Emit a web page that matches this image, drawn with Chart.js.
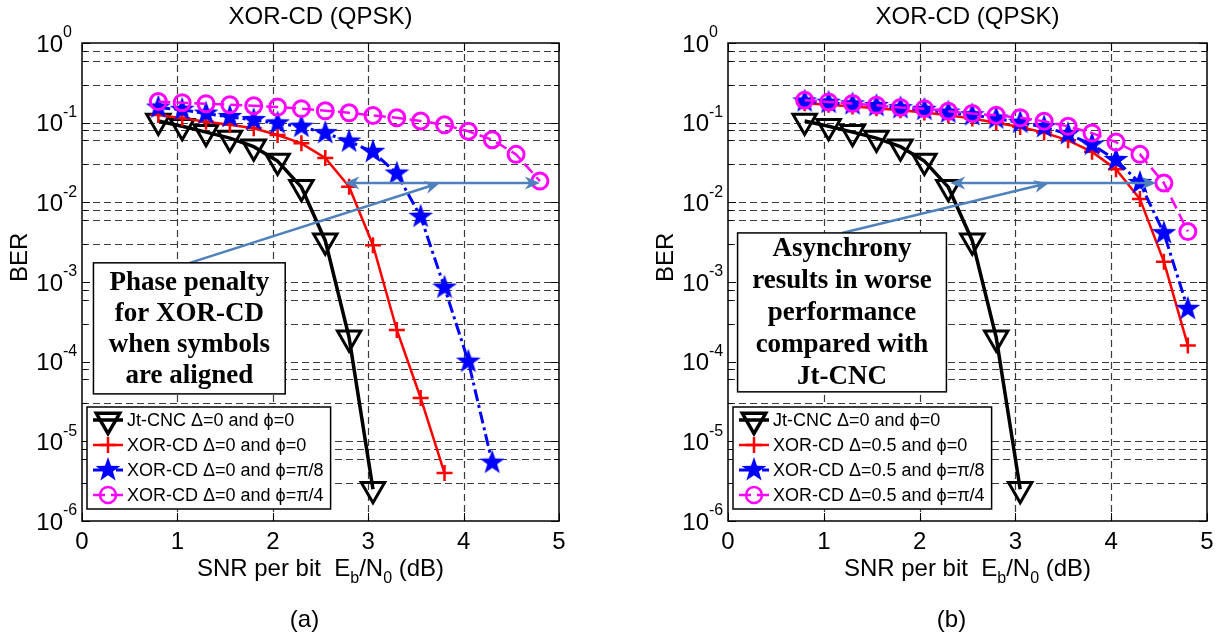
<!DOCTYPE html>
<html>
<head>
<meta charset="utf-8">
<script src="https://cdn.jsdelivr.net/npm/chart.js@4.4.1/dist/chart.umd.min.js"></script>
<style>
  body { margin: 0; background: #fff; }
  #wrap { position: relative; width: 1224px; height: 639px; }
  canvas { position: absolute; top: 0; }
</style>
</head>
<body>
<div id="wrap">
  <canvas id="chartA" width="612" height="639" style="left:0"></canvas>
  <canvas id="chartB" width="612" height="639" style="left:612px"></canvas>
</div>
<script>
// Eb/N0 points (dB)
const snr = [0.8, 1.05, 1.3, 1.55, 1.8, 2.05, 2.3, 2.55, 2.8, 3.05, 3.3, 3.55, 3.8, 4.05, 4.3, 4.55, 4.8];

// BER curves, panel (a)
const jtCnc = [0.105, 0.090, 0.076, 0.064, 0.050, 0.033, 0.0155, 0.0033, 0.0002, 0.0000025];
const xorA0 = [0.125, 0.114, 0.103, 0.094, 0.085, 0.070, 0.055, 0.036, 0.0157, 0.0029, 0.00025, 0.000035, 0.000004];
const xorA8 = [0.155, 0.145, 0.130, 0.118, 0.108, 0.098, 0.089, 0.074, 0.058, 0.043, 0.023, 0.0066, 0.00085, 0.0001, 0.0000054];
const xorA4 = [0.184, 0.178, 0.173, 0.168, 0.163, 0.157, 0.150, 0.141, 0.133, 0.123, 0.115, 0.105, 0.094, 0.078, 0.061, 0.040, 0.0185];

// BER curves, panel (b)
const xorB0 = [0.175, 0.168, 0.160, 0.152, 0.143, 0.134, 0.124, 0.113, 0.100, 0.088, 0.075, 0.060, 0.043, 0.026, 0.011, 0.0018, 0.00016];
const xorB8 = [0.185, 0.178, 0.170, 0.162, 0.152, 0.145, 0.134, 0.124, 0.113, 0.100, 0.088, 0.072, 0.053, 0.034, 0.0175, 0.0041, 0.00046];
const xorB4 = [0.191, 0.182, 0.174, 0.165, 0.155, 0.150, 0.139, 0.130, 0.124, 0.115, 0.104, 0.090, 0.074, 0.057, 0.040, 0.0175, 0.0043];

const xTicks = [0, 1, 2, 3, 4, 5];
const yExps = [0, -1, -2, -3, -4, -5, -6];

const labelsA = ['Jt-CNC \u0394=0 and \u03d5=0', 'XOR-CD \u0394=0 and \u03d5=0', 'XOR-CD \u0394=0 and \u03d5=\u03c0/8', 'XOR-CD \u0394=0 and \u03d5=\u03c0/4'];
const labelsB = ['Jt-CNC \u0394=0 and \u03d5=0', 'XOR-CD \u0394=0.5 and \u03d5=0', 'XOR-CD \u0394=0.5 and \u03d5=\u03c0/8', 'XOR-CD \u0394=0.5 and \u03d5=\u03c0/4'];

const noteA = ['Phase penalty', 'for XOR-CD', 'when symbols', 'are aligned'];
const noteB = ['Asynchrony', 'results in worse', 'performance', 'compared with', 'Jt-CNC'];
// note box corners in data units: [x0, yTop, x1, yBottom]
const noteBoxA = [0.12, 0.00174, 2.13, 0.0000394];
const noteBoxB = [0.10, 0.00413, 2.28, 0.0000418];
// arrows in data units: [x0, y0, x1, y1, doubleHeaded]
const arrowsA = [[2.75, 0.0175, 4.8, 0.0175, true], [1.13, 0.00174, 3.75, 0.0175, false]];
const arrowsB = [[2.32, 0.0175, 4.47, 0.0175, true], [1.19, 0.00413, 3.35, 0.0175, false]];

const SANS = '"Liberation Sans", Arial, sans-serif';
const SERIF = '"Liberation Serif", "Times New Roman", serif';

function makeStar(r) {
    const c = document.createElement('canvas');
    c.width = c.height = Math.ceil(2 * r + 2);
    const g = c.getContext('2d');
    const m = c.width / 2;
    g.beginPath();
    for (let i = 0; i < 10; i++) {
        const rr = i % 2 ? r * 0.4 : r;
        const a = -Math.PI / 2 + i * Math.PI / 5;
        g.lineTo(m + rr * Math.cos(a), m + rr * Math.sin(a));
    }
    g.closePath();
    g.fillStyle = '#0000ff';
    g.fill();
    return c;
}
const starImg = makeStar(13);

function pts(values) {
    return values.map((v, i) => ({ x: snr[i], y: v }));
}

function curves(labels, s0, s8, s4) {
    return [
        { label: labels[0], data: pts(jtCnc), order: 3, borderColor: '#000', borderWidth: 3.5,
          pointStyle: 'triangle', pointRotation: 180, pointRadius: 13.5, pointBorderWidth: 3,
          pointBorderColor: '#000', pointBackgroundColor: 'rgba(0,0,0,0)' },
        { label: labels[1], data: pts(s0), order: 2, borderColor: '#ff0000', borderWidth: 2.5,
          pointStyle: 'cross', pointRadius: 8, pointBorderWidth: 2.5, pointBorderColor: '#ff0000' },
        { label: labels[2], data: pts(s8), order: 1, borderColor: '#0000ff', borderWidth: 3,
          borderDash: [12, 4, 3, 4], pointStyle: starImg, pointRadius: 13 },
        { label: labels[3], data: pts(s4), order: 0, borderColor: '#ff00ff', borderWidth: 2.5,
          borderDash: [12, 6], pointStyle: 'circle', pointRadius: 8, pointBorderWidth: 3,
          pointBorderColor: '#ff00ff', pointBackgroundColor: 'rgba(0,0,0,0)' }
    ];
}

function arrowHead(ctx, x, y, ang) {
    const L = 15, W = 6.5;
    const c = Math.cos(ang), s = Math.sin(ang);
    ctx.beginPath();
    ctx.moveTo(x, y);
    ctx.lineTo(x - L * c + W * s, y - L * s - W * c);
    ctx.lineTo(x - 0.7 * L * c, y - 0.7 * L * s);
    ctx.lineTo(x - L * c - W * s, y - L * s + W * c);
    ctx.closePath();
    ctx.fill();
}

function drawArrow(ctx, x0, y0, x1, y1, both) {
    const ang = Math.atan2(y1 - y0, x1 - x0);
    const c = Math.cos(ang), s = Math.sin(ang);
    ctx.beginPath();
    ctx.moveTo(both ? x0 + 10 * c : x0, both ? y0 + 10 * s : y0);
    ctx.lineTo(x1 - 10 * c, y1 - 10 * s);
    ctx.stroke();
    arrowHead(ctx, x1, y1, ang);
    if (both) arrowHead(ctx, x0, y0, ang + Math.PI);
}

function drawRich(ctx, parts, cx, base) {
    let w = 0;
    parts.forEach(p => {
        ctx.font = (p[1] ? 16 : 24) + 'px ' + SANS;
        w += ctx.measureText(p[0]).width;
    });
    let x = cx - w / 2;
    ctx.textAlign = 'left';
    ctx.textBaseline = 'alphabetic';
    parts.forEach(p => {
        ctx.font = (p[1] ? 16 : 24) + 'px ' + SANS;
        ctx.fillText(p[0], x, base + (p[1] ? 7 : 0));
        x += ctx.measureText(p[0]).width;
    });
}

function matlabAxes(cfg) {
    return {
        id: 'matlabAxes',
        beforeDatasetsDraw(chart) {
            const { ctx, chartArea: a, scales: { x, y } } = chart;
            ctx.save();
            ctx.strokeStyle = '#3c3c3c';
            ctx.lineWidth = 1.2;
            ctx.setLineDash([7, 4]);
            ctx.beginPath();
            xTicks.forEach(v => {
                if (v <= x.min || v >= x.max) return;
                const p = Math.round(x.getPixelForValue(v)) + 0.5;
                ctx.moveTo(p, a.top); ctx.lineTo(p, a.bottom);
            });
            y.ticks.forEach(t => {
                if (t.value <= y.min || t.value >= y.max) return;
                const p = Math.round(y.getPixelForValue(t.value)) + 0.5;
                ctx.moveTo(a.left, p); ctx.lineTo(a.right, p);
            });
            ctx.stroke();
            ctx.restore();
        },
        afterDatasetsDraw(chart) {
            const { ctx, chartArea: a, scales: { x, y } } = chart;
            ctx.save();
            ctx.setLineDash([]);
            ctx.strokeStyle = '#000';
            ctx.fillStyle = '#000';

            // inward tick marks
            ctx.lineWidth = 1;
            ctx.beginPath();
            y.ticks.forEach(t => {
                const p = Math.round(y.getPixelForValue(t.value)) + 0.5;
                const len = t.major ? 8 : 5;
                ctx.moveTo(a.left, p); ctx.lineTo(a.left + len, p);
                ctx.moveTo(a.right, p); ctx.lineTo(a.right - len, p);
            });
            xTicks.forEach(v => {
                const p = Math.round(x.getPixelForValue(v)) + 0.5;
                ctx.moveTo(p, a.bottom); ctx.lineTo(p, a.bottom - 8);
                ctx.moveTo(p, a.top); ctx.lineTo(p, a.top + 8);
            });
            ctx.stroke();

            // frame
            ctx.lineWidth = 1.5;
            ctx.strokeRect(a.left, a.top, a.width, a.height);

            // tick labels
            ctx.textBaseline = 'alphabetic';
            ctx.textAlign = 'center';
            ctx.font = '24px ' + SANS;
            xTicks.forEach(v => ctx.fillText(String(v), x.getPixelForValue(v), 549));
            yExps.forEach(e => {
                const p = y.getPixelForValue(Math.pow(10, e));
                ctx.textAlign = 'right';
                ctx.textBaseline = 'middle';
                ctx.font = '24px ' + SANS;
                ctx.fillText('10', a.left - 19, p + 2);
                ctx.textAlign = 'left';
                ctx.font = '16px ' + SANS;
                ctx.fillText(e === 0 ? '0' : '-' + Math.abs(e), a.left - 19, p - 10);
            });

            // titles
            const cx = (a.left + a.right) / 2;
            ctx.textAlign = 'center';
            ctx.textBaseline = 'alphabetic';
            ctx.font = '24px ' + SANS;
            ctx.fillText('XOR-CD (QPSK)', cx, 24);
            ctx.fillText(cfg.caption, cx - 16, 627);
            drawRich(ctx, [['SNR per bit  E', 0], ['b', 1], ['/N', 0], ['0', 1], [' (dB)', 0]], cx, 576);
            ctx.save();
            ctx.translate(a.left - 55, (a.top + a.bottom) / 2);
            ctx.rotate(-Math.PI / 2);
            ctx.fillText('BER', 0, 0);
            ctx.restore();

            // legend
            const lx = a.left + 5, ly = a.bottom - 114, rowH = 25;
            ctx.font = '18px ' + SANS;
            let tw = 0;
            chart.data.datasets.forEach(ds => { tw = Math.max(tw, ctx.measureText(ds.label).width); });
            ctx.fillStyle = '#fff';
            ctx.fillRect(lx, ly, 41 + tw + 6, rowH * 4 + 2);
            ctx.lineWidth = 1.5;
            ctx.strokeRect(lx, ly, 41 + tw + 6, rowH * 4 + 2);
            chart.data.datasets.forEach((ds, i) => {
                const ry = ly + 13 + i * rowH;
                ctx.strokeStyle = ds.borderColor;
                ctx.lineWidth = ds.borderWidth;
                ctx.setLineDash(ds.borderDash || []);
                ctx.beginPath();
                ctx.moveTo(lx + 6, ry); ctx.lineTo(lx + 36, ry);
                ctx.stroke();
                ctx.setLineDash([]);
                ctx.strokeStyle = ds.pointBorderColor || ds.borderColor;
                ctx.fillStyle = 'rgba(0,0,0,0)';
                Chart.helpers.drawPoint(ctx, {
                    pointStyle: ds.pointStyle, rotation: ds.pointRotation || 0,
                    radius: ds.pointRadius, borderWidth: ds.pointBorderWidth || 0
                }, lx + 21, ry);
                ctx.fillStyle = '#000';
                ctx.textAlign = 'left';
                ctx.textBaseline = 'middle';
                ctx.font = '18px ' + SANS;
                ctx.fillText(ds.label, lx + 40, ry + 1);
            });

            // annotation arrows
            ctx.strokeStyle = '#4f81bd';
            ctx.fillStyle = '#4f81bd';
            ctx.lineWidth = 2.5;
            cfg.arrows.forEach(r => {
                drawArrow(ctx, x.getPixelForValue(r[0]), y.getPixelForValue(r[1]),
                    x.getPixelForValue(r[2]), y.getPixelForValue(r[3]), r[4]);
            });

            // annotation box
            const b = cfg.box;
            const bx0 = x.getPixelForValue(b[0]), by0 = y.getPixelForValue(b[1]);
            const bx1 = x.getPixelForValue(b[2]), by1 = y.getPixelForValue(b[3]);
            ctx.fillStyle = '#fff';
            ctx.fillRect(bx0, by0, bx1 - bx0, by1 - by0);
            ctx.strokeStyle = '#000';
            ctx.lineWidth = 1.5;
            ctx.strokeRect(bx0, by0, bx1 - bx0, by1 - by0);
            ctx.fillStyle = '#000';
            ctx.font = 'bold 27px ' + SERIF;
            ctx.textAlign = 'center';
            ctx.textBaseline = 'middle';
            const lh = cfg.lineH;
            const top = (by0 + by1) / 2 - lh * (cfg.note.length - 1) / 2;
            cfg.note.forEach((t, i) => ctx.fillText(t, (bx0 + bx1) / 2, top + i * lh + 1));

            ctx.restore();
        }
    };
}

function makeChart(id, datasets, cfg, pad) {
    return new Chart(document.getElementById(id), {
        type: 'line',
        data: { datasets },
        options: {
            responsive: false,
            animation: false,
            events: [],
            layout: { padding: pad },
            elements: { line: { tension: 0, fill: false } },
            datasets: { line: { clip: false } },
            plugins: { legend: { display: false }, tooltip: { enabled: false } },
            scales: {
                x: { type: 'linear', min: 0, max: 5, display: false },
                y: {
                    type: 'logarithmic', min: 1e-6, max: 1, display: false,
                    afterBuildTicks: scale => {
                        const ticks = [];
                        yExps.slice().reverse().forEach(e => {
                            if (e === 0) { ticks.push({ value: 1, major: true }); return; }
                            for (let m = 1; m <= 9; m++) ticks.push({ value: m * Math.pow(10, e), major: m === 1 });
                        });
                        scale.ticks = ticks;
                    }
                }
            }
        },
        plugins: [matlabAxes(cfg)]
    });
}

makeChart('chartA', curves(labelsA, xorA0, xorA8, xorA4),
    { caption: '(a)', note: noteA, box: noteBoxA, arrows: arrowsA, lineH: 31 },
    { left: 82, top: 43, right: 53, bottom: 118 });

makeChart('chartB', curves(labelsB, xorB0, xorB8, xorB4),
    { caption: '(b)', note: noteB, box: noteBoxB, arrows: arrowsB, lineH: 32 },
    { left: 116, top: 43, right: 17, bottom: 118 });
</script>
</body>
</html>
